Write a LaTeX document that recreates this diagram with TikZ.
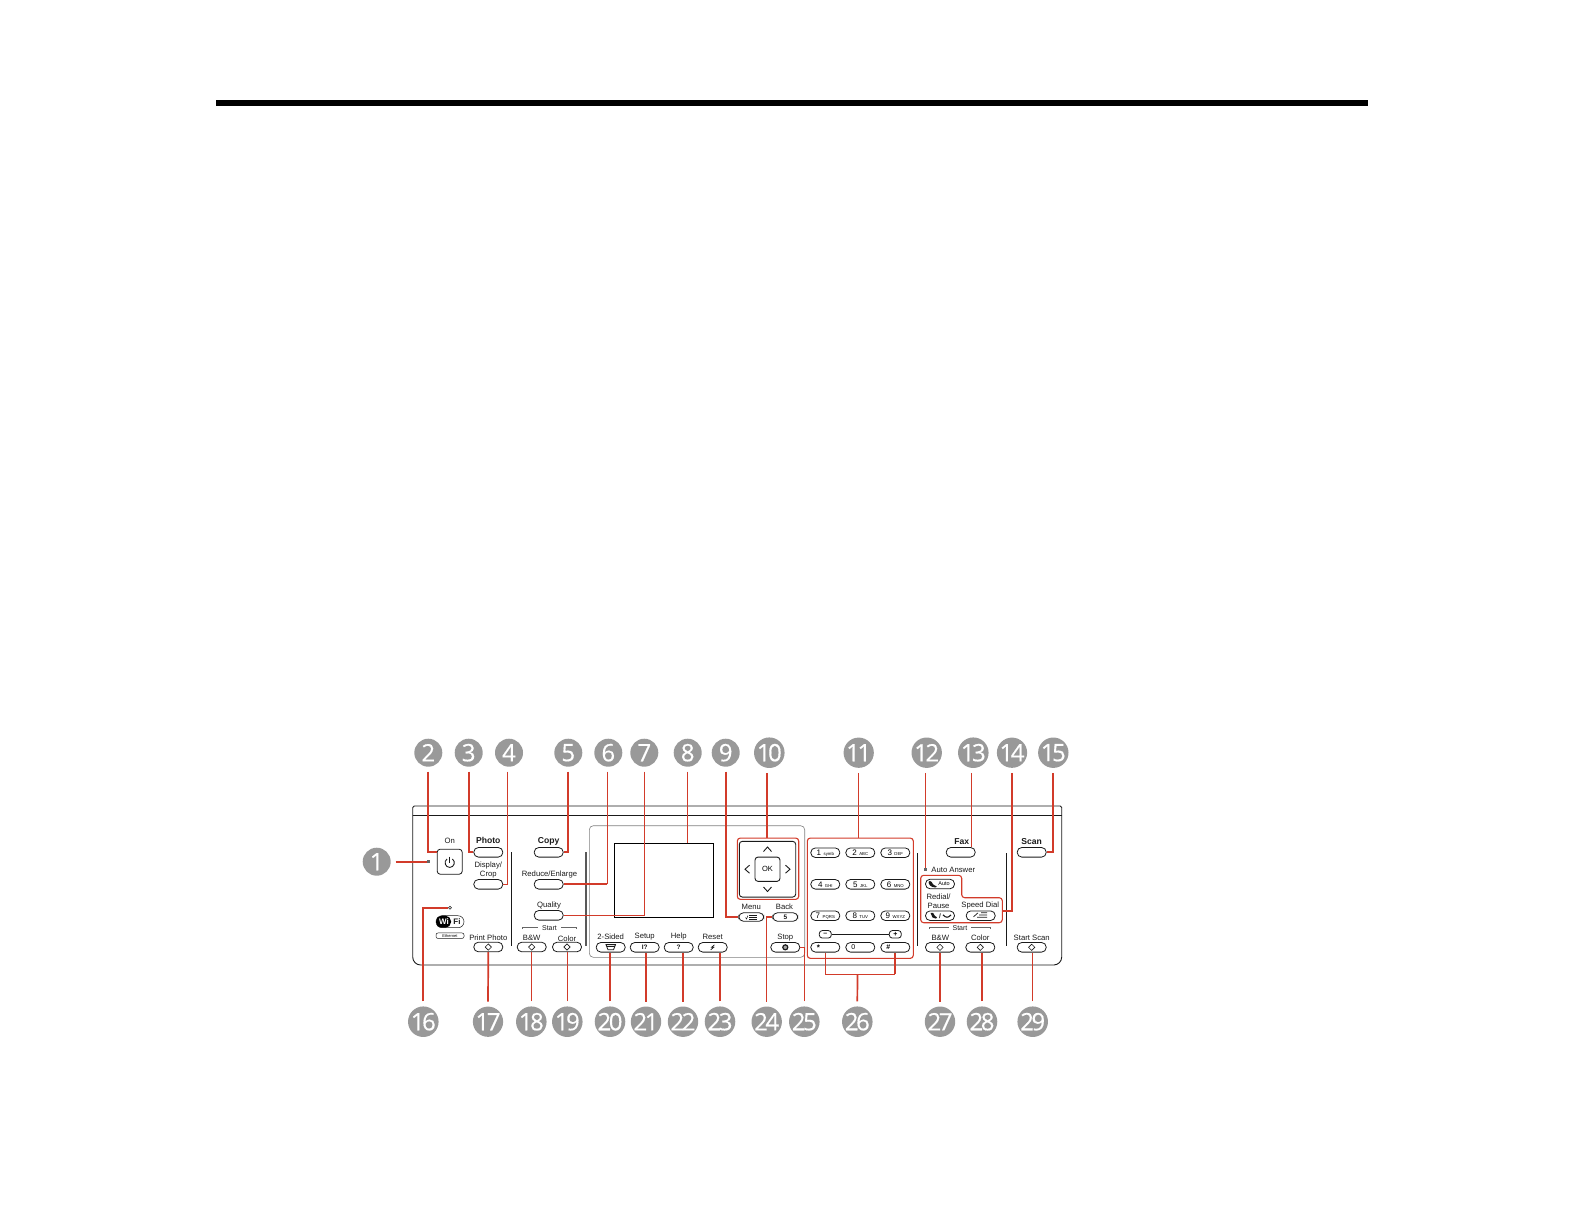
\documentclass[tikz,border=0pt]{standalone}
\usepackage{fontspec}
\setmainfont{Liberation Sans}
\newfontfamily\numfont[FakeBold=0.5]{Open Sans}
\usetikzlibrary{shapes.geometric}
\definecolor{leadred}{HTML}{D23B2A}
\definecolor{badge}{HTML}{999999}
\definecolor{ink}{HTML}{1A1A1A}
\newcommand{\keylab}[2]{{\fontsize{8}{8}\selectfont #1}\hspace{2.5pt}{\fontsize{4.3}{4.3}\selectfont #2}}
\tikzset{
  badgec/.style={circle,fill=badge,minimum size=28pt,inner sep=0pt,outer sep=5pt,text=white,font=\numfont\fontsize{24}{24}\selectfont},
  lead/.style={draw=leadred,line width=1.05pt},
  leadb/.style={draw=leadred,line width=1.7pt},
  pill/.style={draw=ink,line width=0.8pt,rounded corners=4.6pt,minimum width=29pt,minimum height=9.6pt,inner sep=0pt,font=\fontsize{5}{5}\selectfont},
  smallpill/.style={draw=ink,line width=0.8pt,rounded corners=3pt,minimum width=12pt,minimum height=7.5pt,inner sep=0pt,font=\fontsize{7}{7}\selectfont\bfseries},
  lab/.style={inner sep=0pt,yshift=-0.6pt,text=ink,font=\fontsize{7.7}{9}\selectfont,align=center},
  labb/.style={inner sep=0pt,yshift=-0.6pt,text=ink,font=\fontsize{8.6}{9}\selectfont\bfseries},
  dmd/.style={diamond,draw=ink,line width=0.6pt,minimum size=6.5pt,inner sep=0pt},
  redbox/.style={draw=leadred,line width=1.1pt,rounded corners=3pt},
  barline/.style={draw=ink,line width=0.9pt},
  arrowmark/.style={draw=ink,line width=0.9pt},
  startbr/.style={draw=black!60,line width=0.5pt},
  icon/.style={inner sep=0pt,text=ink,font=\fontsize{6.5}{6.5}\selectfont\bfseries}
}
\begin{document}
\begin{tikzpicture}[x=1pt,y=-1pt]
\useasboundingbox (0,0) rectangle (1584,1224);
\fill[black] (216,100) rectangle (1368,106);

% panel
\draw[draw=ink,line width=0.9pt,rounded corners=8pt] (412.7,815) -- (412.7,965) -- (1061.7,965) -- (1061.7,815);
\draw[draw=ink,line width=0.9pt,rounded corners=1.5pt] (412.7,815) -- (412.7,806) -- (1061.7,806) -- (1061.7,815);
\draw[draw=ink,line width=0.9pt] (412.7,815) -- (1061.7,815);
\draw[draw=black!50,line width=0.6pt,rounded corners=4pt] (589.3,825.7) rectangle (804.7,957.3);
\node[draw=black,line width=0.9pt,minimum width=99.4pt,minimum height=74pt,inner sep=0pt] (lcd) at (664,880.3) {};

% separators
\draw[barline] (511.3,852.3) -- (511.3,946.3);
\draw[draw=black!65,line width=1.4pt] (586,852.3) -- (586,946.3);
\draw[barline] (917.7,853.3) -- (917.7,946.3);
\draw[barline] (1006,853.3) -- (1006,946.3);

% On button
\node[draw=ink,line width=0.8pt,rounded corners=3pt,minimum size=25pt,inner sep=0pt] (on) at (449.7,861.7) {};
\draw[draw=ink,line width=0.9pt] (447,859) .. controls (443.4,861.5) and (445.2,867.4) .. (449.7,867.4) .. controls (454.2,867.4) and (456,861.5) .. (452.4,859);
\draw[draw=ink,line width=0.9pt] (449.7,856.5) -- (449.7,862.5);
\node[lab] (lon) at (449.7,840.5) {On};
\node[fill=black!60,minimum size=3pt,inner sep=0pt] (onled) at (428.3,861.7) {};

% left group
\node[pill] (photo) at (488.3,852.3) {};
\node[labb] (lphoto) at (488.3,840.3) {Photo};
\node[pill] (crop) at (488.3,884.3) {};
\node[lab] (lcrop) at (488.3,869.8) {Display/\\Crop};
\node[pill] (pphoto) at (488.3,947) {};
\node[dmd] (d1) at (488.3,947) {};
\node[lab] (lpphoto) at (488.3,937.3) {Print Photo};
\node[circle,draw=ink,line width=0.6pt,minimum size=3pt,inner sep=0pt] (wled) at (450,907.7) {};
% WiFi logo
\node[draw=ink,line width=0.5pt,rounded corners=6pt,minimum width=28pt,minimum height=12pt,inner sep=0pt] (wifi) at (450,921.7) {};
\fill[black,rounded corners=5.5pt] (436,915.7) -- (451,915.7) -- (451,927.7) -- (436,927.7) -- cycle;
\node[inner sep=0pt,text=white,font=\fontsize{8}{8}\selectfont\bfseries] (wi) at (444,921.7) {Wi};
\node[inner sep=0pt,text=ink,font=\fontsize{8}{8}\selectfont\bfseries] (fi) at (457,921.7) {Fi};
\node[draw=ink,line width=0.5pt,rounded corners=2pt,minimum width=28pt,minimum height=5.5pt,inner sep=0pt,font=\fontsize{4}{4}\selectfont] (eth) at (450,935.7) {Ethernet};

% copy group
\node[pill] (copy) at (548.7,852.3) {};
\node[labb] (lcopy) at (548.7,840.7) {Copy};
\node[pill] (reduce) at (548.7,884.3) {};
\node[lab] (lreduce) at (549.5,874.3) {Reduce/Enlarge};
\node[pill] (quality) at (548.7,915.3) {};
\node[lab] (lquality) at (549,905) {Quality};
\node[lab,font=\fontsize{7}{7}\selectfont] (lstart1) at (549.5,927.3) {Start};
\draw[startbr] (522.3,929) -- (522.3,927.3) -- (538,927.3);
\draw[startbr] (576.7,929) -- (576.7,927.3) -- (561,927.3);
\node[pill] (bw1) at (531.7,947) {};
\node[dmd] (d2) at (531.7,947) {};
\node[lab] (lbw1) at (531.7,937.7) {B\&W};
\node[pill] (color1) at (567,947) {};
\node[dmd] (d3) at (567,947) {};
\node[lab] (lcolor1) at (567,937.7) {Color};

% bottom row under LCD
\node[pill] (twos) at (610.7,947.3) {};
\draw[draw=ink,line width=0.8pt] (606,944.6) -- (615.5,944.6) -- (613.5,949.8) -- (608,949.8) -- cycle;
\draw[draw=ink,line width=0.5pt] (606.5,946.4) -- (614.5,946.4);
\node[lab] (ltwos) at (610.7,936.3) {2-Sided};
\node[pill] (setup) at (644.7,947.3) {};
\node[icon] (isetup) at (644.7,947.3) {I?};
\node[lab] (lsetup) at (644.7,936.3) {Setup};
\node[pill] (help) at (678.7,947.3) {};
\node[icon] (ihelp) at (678.7,947.3) {?};
\node[lab] (lhelp) at (678.7,936.3) {Help};
\node[pill] (reset) at (712.7,947.3) {};
\draw[draw=ink,line width=0.7pt] (714.5,944.8) -- (711.5,947.3) -- (713.7,947.3) -- (710.7,949.8);
\node[lab] (lreset) at (712.7,936.3) {Reset};
\node[pill] (stop) at (785.3,947.3) {};
\node[circle,draw=ink,line width=1.2pt,fill=black!35,minimum size=5pt,inner sep=0pt] (istop) at (785.3,947.3) {};
\node[lab] (lstop) at (785.3,936.6) {Stop};

% nav
\node[draw=ink,line width=0.9pt,rounded corners=3pt,minimum width=56.4pt,minimum height=55.7pt,inner sep=0pt] (nav) at (767.5,869.2) {};
\node[draw=ink,line width=0.9pt,rounded corners=3pt,minimum width=25pt,minimum height=24.3pt,inner sep=0pt,font=\fontsize{7.5}{8}\selectfont] (ok) at (767.5,869.2) {OK};
\draw[arrowmark] (763.5,851.5) -- (767.5,847) -- (771.5,851.5);
\draw[arrowmark] (763.5,887) -- (767.5,891.5) -- (771.5,887);
\draw[arrowmark] (749.5,865.2) -- (745,869.2) -- (749.5,873.2);
\draw[arrowmark] (785.5,865.2) -- (790,869.2) -- (785.5,873.2);
\node[pill,minimum width=25pt,minimum height=8.5pt] (menu) at (751.3,917) {};
\draw[draw=ink,line width=0.5pt] (749,914.8) -- (757,914.8) (749,917) -- (757,917) (749,919.2) -- (757,919.2);
\draw[draw=ink,line width=0.5pt] (745.5,917.5) -- (746.5,919) -- (748,915.5);
\node[lab] (lmenu) at (751.3,906.3) {Menu};
\node[pill,minimum width=25pt,minimum height=8.5pt] (back) at (785.3,917) {};
\node[icon] (iback) at (785.3,917) {5};
\node[lab] (lback) at (784.5,906.3) {Back};

% keypad
\node[pill] (k1) at (825.3,852.7) {\keylab{1}{symb}};
\node[pill] (k2) at (860.3,852.7) {\keylab{2}{ABC}};
\node[pill] (k3) at (895.3,852.7) {\keylab{3}{DEF}};
\node[pill] (k4) at (825.3,884.3) {\keylab{4}{GHI}};
\node[pill] (k5) at (860.3,884.3) {\keylab{5}{JKL}};
\node[pill] (k6) at (895.3,884.3) {\keylab{6}{MNO}};
\node[pill] (k7) at (825.3,915.7) {\keylab{7}{PQRS}};
\node[pill] (k8) at (860.3,915.7) {\keylab{8}{TUV}};
\node[pill] (k9) at (895.3,915.7) {\keylab{9}{WXYZ}};
\node[smallpill] (kminus) at (825.3,934.3) {--};
\node[smallpill] (kplus) at (895.3,934.3) {+};
\draw[draw=ink,line width=0.7pt] (kminus) -- (kplus);
\node[pill,font=\fontsize{8}{8}\selectfont\bfseries] (kstar) at (825.3,947.3) {\hspace*{-14pt}*};
\node[pill,font=\fontsize{7}{7}\selectfont] (k0) at (860.3,947.3) {\hspace*{-14pt}0};
\node[pill,font=\fontsize{7}{7}\selectfont\bfseries] (khash) at (895.3,947.3) {\hspace*{-14pt}\#};

% fax group
\node[inner sep=0pt,fill=black!60,minimum size=3pt] (aled) at (925,869.3) {};
\node[lab] (lauto) at (953.3,869.3) {Auto Answer};
\node[pill,font=\fontsize{5.5}{6}\selectfont] (auto) at (940,884) {\hspace*{8pt}Auto};
\fill[ink,rounded corners=1pt] (928.5,881) -- (931,881) -- (933.5,885) -- (937,886.3) -- (936.5,887.5) -- (932,887) -- (929,884.5) -- cycle;
\node[pill] (redial) at (940,915.7) {};
\node[icon] (iredial) at (940,915.7) {/};
\fill[ink] (930.5,912.8) -- (933,912.8) -- (935,916) -- (937,917.3) -- (936,918.6) -- (932.5,917.5) -- cycle;
\draw[ink,line width=1.1pt] (943,914.8) .. controls (945.5,918) and (948.5,918) .. (951,914.8);
\node[lab] (lredial) at (938.6,900.8) {Redial/\\Pause};
\node[pill] (speed) at (980.7,915.7) {};
\draw[draw=ink,line width=0.7pt] (973.5,916.8) -- (978,912.8) (977,917.3) -- (987,917.3) (979,915) -- (987,915) (981,912.8) -- (987,912.8);
\node[lab] (lspeed) at (980.3,905.3) {Speed Dial};
\node[pill] (fax) at (960.7,852.3) {};
\node[labb] (lfax) at (961.7,840.7) {Fax};
\node[pill] (scan) at (1031.7,852.3) {};
\node[labb] (lscan) at (1031.7,840.7) {Scan};
\node[lab,font=\fontsize{7}{7}\selectfont] (lstart2) at (960,927.3) {Start};
\draw[startbr] (929.3,929) -- (929.3,927.3) -- (949,927.3);
\draw[startbr] (990.7,929) -- (990.7,927.3) -- (971,927.3);
\node[pill] (bw2) at (940,947.3) {};
\node[dmd] (d4) at (940,947.3) {};
\node[lab] (lbw2) at (940.3,937.3) {B\&W};
\node[pill] (color2) at (980.3,947.3) {};
\node[dmd] (d5) at (980.3,947.3) {};
\node[lab] (lcolor2) at (980.3,937.3) {Color};
\node[pill] (sscan) at (1031.7,947.3) {};
\node[dmd] (d6) at (1031.7,947.3) {};
\node[lab] (lsscan) at (1031.7,937.3) {Start Scan};

% red boxes
\node[redbox,minimum width=61.4pt,minimum height=61.3pt,inner sep=0pt] (navbox) at (768,868.7) {};
\node[redbox,minimum width=106pt,minimum height=120.3pt,inner sep=0pt] (keybox) at (860.3,898.2) {};
\draw[redbox] (920.7,875.3) -- (961.7,875.3) -- (961.7,897.7) -- (1002.3,897.7) -- (1002.3,922.7) -- (920.7,922.7) -- cycle;
\coordinate (faxbox) at (1002.3,911);

% badges
\node[badgec] (c1) at (376.7,861.7) {1};
\node[badgec] (c2) at (428.3,752.7) {2};
\node[badgec] (c3) at (468.7,752.7) {3};
\node[badgec] (c4) at (509,752.7) {4};
\node[badgec] (c5) at (568.3,752.7) {5};
\node[badgec] (c6) at (608.3,752.7) {6};
\node[badgec] (c7) at (644.3,752.7) {7};
\node[badgec] (c8) at (687.7,752.7) {8};
\node[badgec] (c9) at (725.7,752.7) {9};
\node[badgec] (c10) at (769.3,752.7) {1\kern-2.5pt 0};
\node[badgec] (c11) at (858.7,752.7) {1\kern-2.5pt 1};
\node[badgec] (c12) at (926.7,752.7) {1\kern-2.5pt 2};
\node[badgec] (c13) at (973.3,752.7) {1\kern-2.5pt 3};
\node[badgec] (c14) at (1012,752.7) {1\kern-2.5pt 4};
\node[badgec] (c15) at (1053.3,752.7) {1\kern-2.5pt 5};
\node[badgec] (c16) at (423.3,1021.7) {1\kern-2.5pt 6};
\node[badgec] (c17) at (488,1021.7) {1\kern-2.5pt 7};
\node[badgec] (c18) at (531.3,1021.7) {1\kern-2.5pt 8};
\node[badgec] (c19) at (567.3,1021.7) {1\kern-2.5pt 9};
\node[badgec] (c20) at (610,1021.7) {2\kern-2.5pt 0};
\node[badgec] (c21) at (646,1021.7) {2\kern-2.5pt 1};
\node[badgec] (c22) at (683,1021.7) {2\kern-2.5pt 2};
\node[badgec] (c23) at (720,1021.7) {2\kern-2.5pt 3};
\node[badgec] (c24) at (766.7,1021.7) {2\kern-2.5pt 4};
\node[badgec] (c25) at (804.3,1021.7) {2\kern-2.5pt 5};
\node[badgec] (c26) at (857.3,1021.7) {2\kern-2.5pt 6};
\node[badgec] (c27) at (940,1021.7) {2\kern-2.5pt 7};
\node[badgec] (c28) at (982,1021.7) {2\kern-2.5pt 8};
\node[badgec] (c29) at (1032.7,1021.7) {2\kern-2.5pt 9};

% leaders
\draw[leadb] (c1.east) -- (onled.west);
\draw[leadb] (c2.south) |- (on.west|-photo);
\draw[leadb] (c3.south) |- (photo.west);
\draw[lead] ([xshift=-1.7pt]c4.south) |- (crop.east);
\draw[leadb] (c5.south) |- (copy.east);
\draw[lead] ([xshift=-1pt]c6.south) -- ([xshift=-1pt]c6.south|-reduce);
\draw[leadb] ([xshift=-1pt]c6.south|-reduce) -- (reduce.east);
\draw[lead] (c7.south) |- (quality.east);
\draw[lead] (c8.south) -- (c8.south|-lcd.north);
\draw[leadb] (c9.south) |- (menu.west);
\draw[leadb] ([xshift=-2.6pt]c10.south) -- ([xshift=-2.6pt]c10.south|-navbox.north);
\draw[lead] (c11.south) -- (c11.south|-keybox.north);
\draw[lead] ([xshift=-1.4pt]c12.south) -- ([xshift=-1.4pt]c12.south|-aled.north);
\draw[lead] ([xshift=-1.6pt]c13.south) -- ([xshift=-1.6pt]c13.south|-fax.north);
\draw[lead] (c14.south) |- (faxbox);
\draw[leadb] (c15.south) |- (scan.east);
\draw[leadb] (c16.north) |- (wled.west);
\draw[leadb] (c17.north) -- (pphoto.south);
\draw[lead] (c18.north) -- (c18.north|-bw1.south);
\draw[lead] (c19.north) -- (c19.north|-color1.south);
\draw[leadb] (c20.north) -- (c20.north|-twos.south);
\draw[leadb] (c21.north) -- (c21.north|-setup.south);
\draw[lead] (c22.north) -- (c22.north|-help.south);
\draw[lead] (c23.north) -- (c23.north|-reset.south);
\draw[lead] (c24.north) |- (back.west);
\draw[lead] (c25.north) |- (stop.east);
\coordinate (j26) at (857.5,974.3);
\draw[leadb] (c26.north) -- (j26);
\draw[lead] (kstar.south) -- (kstar.south|-j26) -- (khash.south|-j26);
\draw[leadb] (khash.south|-j26) -- (khash.south);
\draw[lead] (c27.north) -- (bw2.south);
\draw[leadb] (c28.north) -- (c28.north|-color2.south);
\draw[lead] (c29.north) -- (c29.north|-sscan.south);
\end{tikzpicture}
\end{document}
